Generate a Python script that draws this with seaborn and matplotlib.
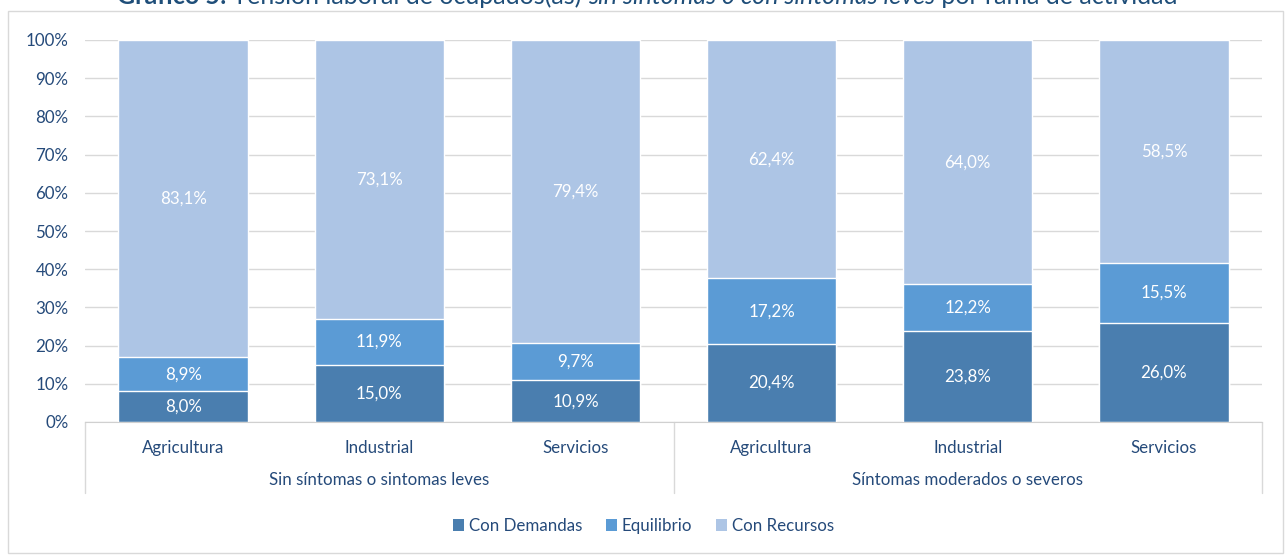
# Tension laboral por rama de actividad - barras apiladas al 100%
import pandas as pd
import matplotlib.pyplot as plt
from matplotlib.patches import Patch, Rectangle
from matplotlib.lines import Line2D
import seaborn as sns

# ---------------------------------------------------------
# DATA
# ---------------------------------------------------------
grupos = ["Sin síntomas o sintomas leves", "Síntomas moderados o severos"]
ramas = ["Agricultura", "Industrial", "Servicios"]

con_demandas = [8.0, 15.0, 10.9, 20.4, 23.8, 26.0]
equilibrio = [8.9, 11.9, 9.7, 17.2, 12.2, 15.5]
con_recursos = [83.1, 73.1, 79.4, 62.4, 64.0, 58.5]

series = ["Con Demandas", "Equilibrio", "Con Recursos"]
colores = ["#4A7EAF", "#5B9BD5", "#ADC5E5"]
texto = "#254A7A"

titulo = [
    ("Gráfico 5:", "bold", "normal"),
    (" Tensión laboral de ocupados(as) ", "normal", "normal"),
    ("sin síntomas o con síntomas leves", "normal", "italic"),
    (" por rama de actividad", "normal", "normal"),
]

df = pd.DataFrame({
    "clave": [f"{g[:3]}-{r}" for g in grupos for r in ramas],
    "demandas": con_demandas,
    "equilibrio": equilibrio,
    "recursos": con_recursos,
})
df["c1"] = df["demandas"]
df["c2"] = df["demandas"] + df["equilibrio"]
df["c3"] = df["c2"] + df["recursos"]

# ---------------------------------------------------------
# STYLE
# ---------------------------------------------------------
sns.set_style("white")
plt.rcParams["font.family"] = ["Lato", "DejaVu Sans"]
fs = 12.2

fig = plt.figure(figsize=(12.87, 5.55), dpi=100)
W, H = 1287, 555
ax = fig.add_axes([85 / W, 1 - 422 / H, (1262 - 85) / W, (422 - 40) / H])

# outer chart frame
fig.patches.append(Rectangle((8 / W, 1 - 553 / H), (1283 - 8) / W, (553 - 11) / H,
                             transform=fig.transFigure, fill=False,
                             edgecolor="#D9D9D9", linewidth=1))

# ---------------------------------------------------------
# STACKED BARS (draw cumulative totals from top to bottom)
# ---------------------------------------------------------
for col, color in zip(["c3", "c2", "c1"], colores[::-1]):
    sns.barplot(data=df, x="clave", y=col, color=color, saturation=1,
                width=0.66, ax=ax, zorder=2)

# data labels in segment centres
for i, row in df.iterrows():
    for lo, hi, val in [(0, row["c1"], row["demandas"]),
                        (row["c1"], row["c2"], row["equilibrio"]),
                        (row["c2"], 100, row["recursos"])]:
        ax.text(i, (lo + hi) / 2, f"{val:.1f}%".replace(".", ","),
                ha="center", va="center", color="white", fontsize=fs, zorder=3)

# ---------------------------------------------------------
# AXES
# ---------------------------------------------------------
ax.set_ylim(0, 100)
ax.set_xlim(-0.5, 5.5)
ax.set_yticks(range(0, 101, 10))
ax.set_yticklabels([f"{v}%" for v in range(0, 101, 10)])
ax.set_xticks(range(6))
ax.set_xticklabels(ramas * 2)
ax.tick_params(axis="both", length=0, colors=texto, labelsize=fs)
ax.tick_params(axis="y", pad=12)
ax.tick_params(axis="x", pad=13)
ax.set_xlabel("")
ax.set_ylabel("")
ax.grid(axis="y", color="#D9D9D9", linewidth=1, zorder=0)
ax.set_axisbelow(True)
for s in ["top", "right", "left"]:
    ax.spines[s].set_visible(False)
ax.spines["bottom"].set_color("#D0D0D0")

# two-level category axis: separators and group labels
trans = ax.get_xaxis_transform()
for xs in [-0.5, 2.5, 5.5]:
    ax.add_line(Line2D([xs, xs], [0, -71 / 382], transform=trans,
                       color="#D9D9D9", linewidth=1, clip_on=False))
for k, g in enumerate(grupos):
    ax.text(1 + 3 * k, -58 / 382, g, transform=trans, ha="center",
            va="center", color=texto, fontsize=fs)

# ---------------------------------------------------------
# LEGEND
# ---------------------------------------------------------
handles = [Patch(facecolor=c, edgecolor="none") for c in colores]
fig.legend(handles, series, loc="center", bbox_to_anchor=(0.5, 1 - 526 / H),
           ncol=3, frameon=False, handlelength=0.65, handleheight=0.65,
           handletextpad=0.3, columnspacing=1.4, labelcolor=texto, fontsize=fs)

# ---------------------------------------------------------
# TITLE (clipped at the top like the source image)
# ---------------------------------------------------------
fig.canvas.draw()
renderer = fig.canvas.get_renderer()
partes = []
for txt, weight, style in titulo:
    t = fig.text(0, 1 - 4 / H, txt, fontsize=18, fontweight=weight,
                 fontstyle=style, color="#1F4E79", va="baseline")
    partes.append(t)
anchos = [p.get_window_extent(renderer).width for p in partes]
x0 = 647 - sum(anchos) / 2
for p, w in zip(partes, anchos):
    p.set_x(x0 / W)
    x0 += w

fig.savefig("out.png", dpi=100)
